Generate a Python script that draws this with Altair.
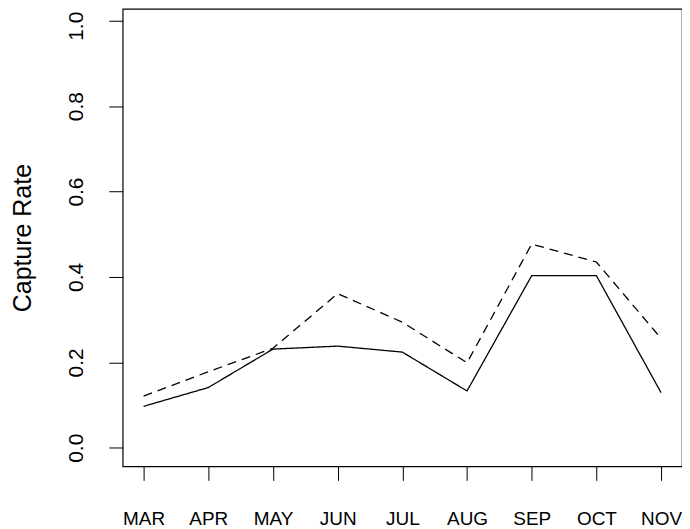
import altair as alt
import pandas as pd

months = ["MAR", "APR", "MAY", "JUN", "JUL", "AUG", "SEP", "OCT", "NOV"]
rate_solid = [0.097, 0.141, 0.231, 0.238, 0.224, 0.133, 0.403, 0.403, 0.129]
rate_dashed = [0.121, 0.178, 0.233, 0.361, 0.294, 0.199, 0.477, 0.435, 0.256]
series_names = ["Rate 1", "Rate 2"]
y_ticks = [0.0, 0.2, 0.4, 0.6, 0.8, 1.0]

rows = []
for name, vals in zip(series_names, [rate_solid, rate_dashed]):
    for m, v in zip(months, vals):
        rows.append({"month": m, "rate": v, "series": name})
df = pd.DataFrame(rows)

FONT = "Liberation Sans"

chart = alt.Chart(df).mark_line(color="black", strokeWidth=1.3).encode(
    x=alt.X(
        "month:N",
        sort=months,
        scale=alt.Scale(type="point", padding=0.3235),
        axis=alt.Axis(
            title=None,
            domain=False,
            grid=False,
            ticks=True,
            tickSize=14,
            tickColor="black",
            tickWidth=1,
            labelAngle=0,
            labelFont=FONT,
            labelFontSize=19,
            labelColor="black",
            labelBaseline="alphabetic",
            labelPadding=44,
        ),
    ),
    y=alt.Y(
        "rate:Q",
        scale=alt.Scale(domain=[-0.0437, 1.028], nice=False, zero=False),
        axis=alt.Axis(
            title="Capture Rate",
            values=y_ticks,
            format=".1f",
            domain=False,
            grid=False,
            tickSize=14,
            tickColor="black",
            tickWidth=1,
            labelAngle=270,
            labelAlign="center",
            labelBaseline="alphabetic",
            labelFont=FONT,
            labelFontSize=21,
            labelColor="black",
            labelPadding=26,
            labelOffset=alt.condition("datum.value >= 0.99", alt.value(5), alt.value(0)),
            titleFont=FONT,
            titleFontSize=25,
            titleFontWeight="normal",
            titleColor="black",
            titleAngle=270,
            titleAlign="center",
            titleBaseline="alphabetic",
            titleX=-92,
            titleY=229.5,
        ),
    ),
    strokeDash=alt.StrokeDash(
        "series:N",
        scale=alt.Scale(domain=series_names, range=[[1, 0], [9, 6]]),
        legend=None,
    ),
).properties(
    width=561,
    height=459,
    padding={"left": 115, "top": 0, "right": 0, "bottom": 64},
    autosize=alt.AutoSizeParams(type="none"),
).configure_view(
    stroke="black", strokeWidth=1.2, strokeOpacity=1
)

chart.save("out.html", embed_options={"renderer": "svg", "actions": False})
